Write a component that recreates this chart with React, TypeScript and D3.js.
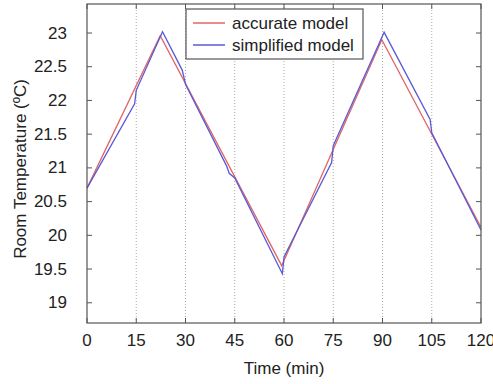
import React from "react";
import * as d3 from "d3";

const xTicks = [0, 15, 30, 45, 60, 75, 90, 105, 120];
const yTicks = [19, 19.5, 20, 20.5, 21, 21.5, 22, 22.5, 23];
const yTickLabels = ["19", "19.5", "20", "20.5", "21", "21.5", "22", "22.5", "23"];

const accTime = [0, 22.3, 59.3, 89.8, 120];
const accTemp = [20.7, 22.96, 19.55, 22.9, 20.12];

const simTime = [0, 14.5, 15, 23, 29, 30, 42.5, 43.3, 45, 59.5, 60, 74.5, 75, 90.5, 104.5, 105, 120];
const simTemp = [20.7, 21.95, 22.15, 23.02, 22.45, 22.24, 21.03, 20.92, 20.85, 19.43, 19.68, 21.08, 21.33, 23.01, 21.72, 21.52, 20.08];

const seriesNames = ["accurate model", "simplified model"];
const colors = ["#e06666", "#5a5ad6"];

const W = 493, H = 384;
const L = 87, R = 481, T = 4, B = 323;

export default function App() {
  const x = d3.scaleLinear().domain([0, 120]).range([L, R]);
  const y = d3.scaleLinear().domain([18.7, 23.43]).range([B, T]);
  const line = d3.line<[number, number]>().x(d => x(d[0])).y(d => y(d[1]));
  const acc = accTime.map((t, i) => [t, accTemp[i]] as [number, number]);
  const sim = simTime.map((t, i) => [t, simTemp[i]] as [number, number]);
  const font = "Liberation Sans, Arial, sans-serif";
  const frame = "#555";
  return (
    <svg width={W} height={H} style={{ position: "absolute", left: 0, top: 0, background: "#fff" }} fontFamily={font}>
      <rect x={0} y={0} width={W} height={H} fill="#fff" />
      {xTicks.slice(1, -1).map(t => (
        <line key={"g" + t} x1={x(t)} x2={x(t)} y1={T} y2={B} stroke="#aaa" strokeWidth={1} strokeDasharray="1,2" />
      ))}
      <path d={line(acc) || ""} fill="none" stroke={colors[0]} strokeWidth={1.3} />
      <path d={line(sim) || ""} fill="none" stroke={colors[1]} strokeWidth={1.3} />
      <rect x={L} y={T} width={R - L} height={B - T} fill="none" stroke={frame} strokeWidth={1.2} />
      {xTicks.map(t => (
        <g key={"xt" + t}>
          <line x1={x(t)} x2={x(t)} y1={B} y2={B - 5} stroke={frame} />
          <line x1={x(t)} x2={x(t)} y1={T} y2={T + 5} stroke={frame} />
          <text x={x(t)} y={340} textAnchor="middle" dominantBaseline="central" fontSize={17} fill="#222">{t}</text>
        </g>
      ))}
      {yTicks.map((t, i) => (
        <g key={"yt" + t}>
          <line x1={L} x2={L + 5} y1={y(t)} y2={y(t)} stroke={frame} />
          <line x1={R} x2={R - 5} y1={y(t)} y2={y(t)} stroke={frame} />
          <text x={67} y={y(t)} textAnchor="end" dominantBaseline="central" fontSize={17} fill="#222">{yTickLabels[i]}</text>
        </g>
      ))}
      <text x={284} y={368} textAnchor="middle" dominantBaseline="central" fontSize={17} fill="#222">Time (min)</text>
      <text transform={`translate(20,169) rotate(-90)`} textAnchor="middle" dominantBaseline="central" fontSize={17} fill="#222">Room Temperature (ºC)</text>
      <g>
        <rect x={186} y={9} width={177} height={50} fill="#fff" stroke={frame} strokeWidth={1.2} />
        {seriesNames.map((n, i) => (
          <g key={n}>
            <line x1={193} x2={225} y1={23 + i * 22} y2={23 + i * 22} stroke={colors[i]} strokeWidth={1.5} />
            <text x={232} y={23 + i * 22} dominantBaseline="central" fontSize={17} fill="#222">{n}</text>
          </g>
        ))}
      </g>
    </svg>
  );
}
